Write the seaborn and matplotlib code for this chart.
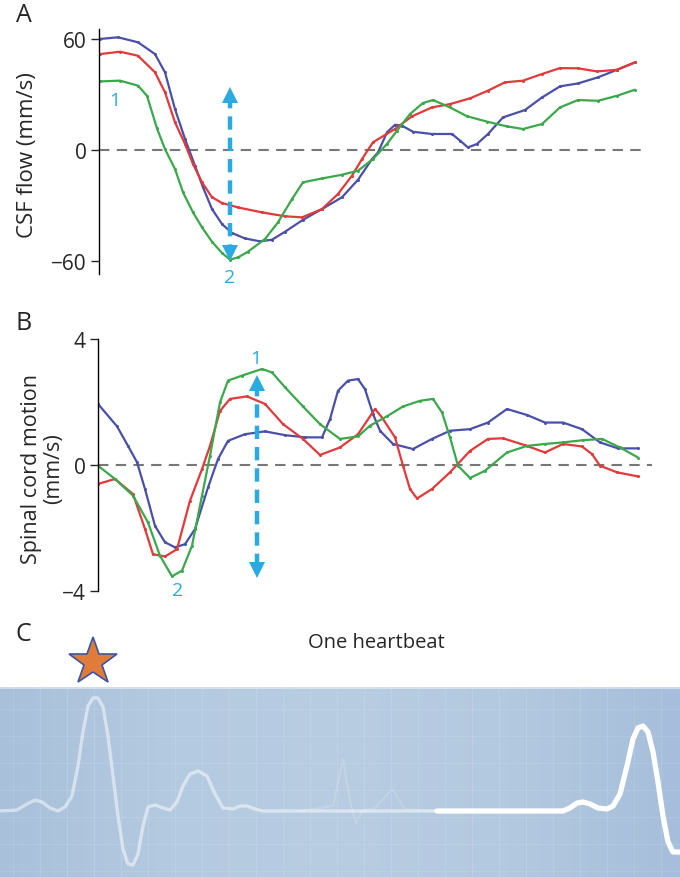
import numpy as np
import pandas as pd
import matplotlib
matplotlib.use('Agg')
import matplotlib.pyplot as plt
import seaborn as sns
from matplotlib.colors import LinearSegmentedColormap

sns.set_style('white')
plt.rcParams['font.family'] = ['Open Sans', 'DejaVu Sans']

BLUE = '#4a50a8'
RED = '#e23a3a'
GREEN = '#3aa84b'
CYAN = '#29abe2'

# Panel A: CSF flow (mm/s), x = time position within the cycle
a_blue_x = [0, 18, 38, 55, 65, 75, 85, 95, 103, 112, 122, 132, 145, 160, 172, 185, 203, 222, 242, 258,
            272, 278, 287, 295, 302, 313, 332, 352, 360, 368, 377, 388, 403, 425, 442, 460, 478, 498, 517, 535]
a_blue_y = [60.2, 61.1, 58.4, 52, 42.1, 22.2, 6, -8.5, -20.2, -32, -40.1, -45, -47.9, -49.5, -48.6, -44.3, -37.8, -32, -25.6, -16.1,
            -4.9, -1.3, 9.6, 13.7, 13.2, 9.9, 8.7, 8.7, 5.1, 1.4, 3.3, 8.7, 17.7, 21.7, 28.5, 34.5, 36.1, 39.4, 43.5, 47.5]
a_red_x = [0, 20, 38, 55, 65, 75, 85, 93, 102, 112, 122, 138, 162, 185, 202, 222, 238, 252, 262, 273,
           295, 312, 332, 350, 370, 388, 405, 423, 442, 460, 478, 497, 517, 535]
a_red_y = [52, 53.3, 51.1, 42.1, 31.3, 15, 3.3, -7.6, -17.5, -25.6, -28.7, -31.1, -33.8, -35.9, -36.5, -32, -23.8, -13.9, -4.9, 4.2,
           11.4, 18.3, 23.1, 24.9, 28, 32.2, 36.7, 37.6, 41.2, 44.4, 44.3, 42.6, 43.5, 47.5]
a_green_x = [0, 20, 38, 47, 57, 65, 75, 83, 93, 102, 112, 122, 130, 138, 148, 165, 178, 192, 203, 222,
             242, 258, 273, 287, 297, 310, 323, 333, 350, 367, 387, 407, 423, 442, 460, 478, 498, 517, 535]
a_green_y = [37.2, 37.6, 34.9, 29.4, 11.7, 0.5, -10.3, -22.9, -33.8, -41.9, -49.7, -55.8, -59.4, -58.2, -55.1, -48.2, -39.2, -26.6, -17.5, -15.4,
             -13.4, -11.2, -4.9, 3.3, 10.5, 19.5, 25.5, 27.1, 23.1, 18.3, 15.4, 12.8, 11.4, 14.1, 23.1, 27.1, 26.7, 29.4, 32.7]

# Panel B: spinal cord motion (mm/s)
b_blue_x = [-2, 17, 28, 37, 45, 55, 65, 75, 85, 95, 108, 118, 128, 145, 165, 185, 205, 222, 230, 238,
            248, 258, 265, 273, 280, 293, 313, 332, 350, 370, 388, 407, 427, 445, 463, 482, 500, 518, 538]
b_blue_y = [1.94, 1.23, 0.61, 0.09, -0.76, -1.93, -2.45, -2.61, -2.51, -2.03, -0.71, 0.19, 0.77, 0.98, 1.07, 0.95, 0.88, 0.88, 1.46, 2.36,
            2.68, 2.73, 2.41, 1.62, 1.09, 0.67, 0.51, 0.83, 1.09, 1.14, 1.35, 1.78, 1.59, 1.35, 1.35, 1.14, 0.72, 0.53, 0.53]
b_red_x = [-2, 15, 33, 45, 53, 65, 77, 90, 102, 110, 120, 130, 147, 165, 183, 203, 220, 240, 258, 275,
           282, 295, 303, 310, 317, 332, 350, 370, 388, 403, 425, 445, 463, 482, 492, 500, 517, 538]
b_red_y = [-0.6, -0.44, -0.92, -2.03, -2.83, -2.9, -2.67, -1.13, -0.13, 0.61, 1.72, 2.1, 2.18, 1.94, 1.3, 0.83, 0.32, 0.56, 0.98, 1.78,
           1.51, 0.88, -0.02, -0.76, -1.06, -0.76, -0.23, 0.45, 0.83, 0.85, 0.63, 0.4, 0.67, 0.59, 0.35, -0.02, -0.23, -0.36]
b_green_x = [-2, 15, 33, 48, 60, 72, 82, 92, 102, 110, 120, 128, 142, 162, 172, 185, 203, 220, 240, 258,
             270, 287, 303, 320, 333, 342, 350, 358, 370, 385, 407, 427, 445, 463, 483, 502, 520, 538]
b_green_y = [-0.02, -0.44, -0.97, -1.82, -2.88, -3.53, -3.35, -2.56, -0.97, 0.3, 1.99, 2.68, 2.84, 3.05, 2.94, 2.47, 1.86, 1.3, 0.83, 0.91,
             1.25, 1.55, 1.86, 2.04, 2.1, 1.67, 0.88, -0.02, -0.41, -0.18, 0.4, 0.61, 0.67, 0.72, 0.79, 0.83, 0.56, 0.24]

# Panel C: ECG trace (amplitude above baseline)
ecg_old_x = [0, 17, 27, 35, 42, 50, 58, 65, 72, 78, 83, 88, 93, 98, 103, 108, 113, 118, 123, 128,
             133, 138, 143, 148, 155, 163, 170, 177, 183, 190, 198, 207, 215, 223, 233, 240, 247, 255, 263, 437]
ecg_old_y = [0, 1, 7, 11, 9, 3, 0, 4, 15, 45, 79, 105, 113, 113, 104, 75, 35, -5, -38, -53,
             -54, -43, -15, 4, 6, 3, 1, 9, 25, 37, 40, 35, 17, 3, 2, 5, 5, 2, 0, 0]
ecg_ghost_x = [300, 320, 333, 343, 350, 356, 362, 375, 392, 405, 437]
ecg_ghost_y = [0, 3, 5, 52, 10, -12, 0, 3, 22, 2, 0]
ecg_new_x = [437, 563, 570, 577, 583, 590, 598, 607, 613, 620, 627, 633, 638, 643, 648, 653, 658, 663, 668, 673, 680]
ecg_new_y = [0, 0, 3, 8, 9, 7, 3, 2, 5, 17, 45, 72, 83, 85, 79, 59, 29, -5, -31, -41, -41]

W, H = 680, 878
fig = plt.figure(figsize=(6.8, 8.78), dpi=100)


def draw_series(ax, xs, ys, color):
    df = pd.DataFrame({'x': xs, 'y': ys})
    sns.lineplot(data=df, x='x', y='y', ax=ax, color=color, lw=1.6, sort=False,
                 marker='o', markersize=2.2, markeredgewidth=0, estimator=None)


def style_axis(ax, ticks, bounds):
    sns.despine(ax=ax, bottom=True)
    ax.spines['left'].set_bounds(*bounds)
    ax.spines['left'].set_color('black')
    ax.spines['left'].set_linewidth(1.0)
    ax.set_xticks([])
    ax.set_yticks(ticks)
    ax.set_yticklabels(['\u2212' + str(abs(t)) if t < 0 else str(t) for t in ticks])
    ax.tick_params(axis='y', length=6, width=1.0, labelsize=15, pad=3, left=True)
    ax.set_xlabel('')
    ax.patch.set_alpha(0)


def double_arrow(ax, x, y_top, y_bot, ms):
    ax.plot([x, x], [y_top, y_bot], color=CYAN, lw=3.2, ls=(0, (3, 1.8)))
    ax.plot([x], [y_top], marker='^', color=CYAN, markersize=ms, markeredgewidth=0)
    ax.plot([x], [y_bot], marker='v', color=CYAN, markersize=ms, markeredgewidth=0)


# ---- Panel A
ax_a = fig.add_axes([99 / W, 1 - 280 / H, 551 / W, 250 / H])
ax_a.axhline(0, xmin=0, xmax=(646 - 99) / 551, color='#777777', lw=1.5, ls=(0, (5, 3.5)))
draw_series(ax_a, a_blue_x, a_blue_y, BLUE)
draw_series(ax_a, a_red_x, a_red_y, RED)
draw_series(ax_a, a_green_x, a_green_y, GREEN)
ax_a.set_xlim(-1, 550)
ax_a.set_ylim(-69.9, 65.6)
style_axis(ax_a, [-60, 0, 60], (-67.2, 65.6))
ax_a.set_ylabel('CSF flow (mm/s)', fontsize=16)
ax_a.yaxis.set_label_coords(-0.110, 0.5)
double_arrow(ax_a, 130, 30, -56, 11)
ax_a.text(15, 27, '1', color=CYAN, fontsize=14, ha='center', va='center')
ax_a.text(130, -69, '2', color=CYAN, fontsize=14, ha='center', va='center', clip_on=False)

# ---- Panel B
ax_b = fig.add_axes([98 / W, 1 - 600 / H, 554 / W, 265 / H])
ax_b.axhline(0, color='#777777', lw=1.5, ls=(0, (5, 3.5)))
draw_series(ax_b, b_blue_x, b_blue_y, BLUE)
draw_series(ax_b, b_red_x, b_red_y, RED)
draw_series(ax_b, b_green_x, b_green_y, GREEN)
ax_b.set_xlim(-2, 552)
ax_b.set_ylim(-4.25, 4.16)
style_axis(ax_b, [-4, 0, 4], (-4, 4))
ax_b.set_ylabel('Spinal cord motion\n(mm/s)', fontsize=15.5, linespacing=1.05)
ax_b.yaxis.set_label_coords(-0.062, 0.494)
double_arrow(ax_b, 157, 2.6, -3.33, 11)
ax_b.text(156, 3.4, '1', color=CYAN, fontsize=14, ha='center', va='center')
ax_b.text(78, -3.95, '2', color=CYAN, fontsize=14, ha='center', va='center', clip_on=False)

# ---- Panel C
ax_c = fig.add_axes([0, 0, 1, 190 / H])
bg = LinearSegmentedColormap.from_list('bg', ['#a8c0da', '#b4cae0', '#b8cde2', '#b3c9df', '#a6bedb'])
grad = np.tile(np.linspace(0, 1, 256), (8, 1))
ax_c.imshow(grad, cmap=bg, aspect='auto', extent=(0, 680, -66, 124), zorder=0)
for gx in np.arange(13, 680, 27):
    ax_c.axvline(gx, color='white', lw=0.8, alpha=0.12, zorder=1)
for gy in np.arange(-60, 124, 27):
    ax_c.axhline(gy, color='white', lw=0.8, alpha=0.10, zorder=1)
ax_c.axhline(123, color='white', lw=1.2, alpha=0.5, zorder=1)
ax_c.plot(ecg_ghost_x, ecg_ghost_y, color='white', lw=1.5, alpha=0.15, zorder=2)
ax_c.plot(ecg_old_x, ecg_old_y, color='white', lw=2.4, alpha=0.5, zorder=3,
          solid_joinstyle='round', solid_capstyle='round')
ax_c.plot(ecg_new_x, ecg_new_y, color='white', lw=3.8, alpha=1.0, zorder=4,
          solid_joinstyle='round', solid_capstyle='round')
ax_c.set_xlim(0, 680)
ax_c.set_ylim(-66, 124)
ax_c.axis('off')
ax_c.plot([93], [149], marker='*', markersize=36, color='#e07b39',
          markeredgecolor='#3b55a3', markeredgewidth=1.2, clip_on=False, zorder=5)

# panel letters and header
fig.text(24 / W, 1 - 15 / H, 'A', fontsize=18, ha='center', va='center')
fig.text(24 / W, 1 - 324 / H, 'B', fontsize=18, ha='center', va='center')
fig.text(23 / W, 1 - 635 / H, 'C', fontsize=18, ha='center', va='center')
fig.text(376 / W, 1 - 643 / H, 'One heartbeat', fontsize=14.5, ha='center', va='center')

fig.savefig('out.png', dpi=100)
plt.close(fig)
